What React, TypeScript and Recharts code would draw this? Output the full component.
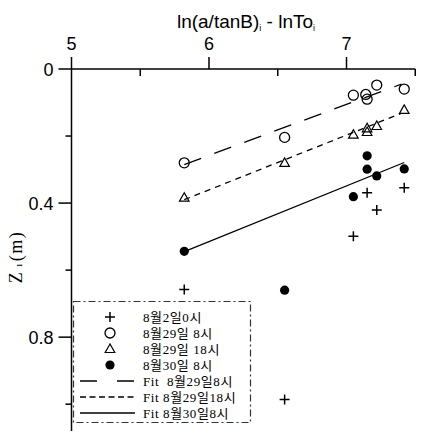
import React from 'react';
import { ScatterChart, Scatter, XAxis, YAxis, Legend } from 'recharts';

// ---- data ----
const xTicks = [5, 5.5, 6, 6.5, 7, 7.5];
const xMajor = [5, 6, 7];
const yTicks = [0, 0.2, 0.4, 0.6, 0.8, 1.0];
const yMajor = [0, 0.4, 0.8];

const crossX = [5.82, 6.55, 7.05, 7.15, 7.22, 7.42];
const crossY = [0.658, 0.986, 0.499, 0.369, 0.421, 0.354];

const openCircX = [5.82, 6.55, 7.05, 7.14, 7.15, 7.22, 7.42];
const openCircY = [0.28, 0.204, 0.078, 0.076, 0.09, 0.048, 0.06];

const triX = [5.82, 6.55, 7.05, 7.15, 7.15, 7.22, 7.42];
const triY = [0.384, 0.28, 0.196, 0.188, 0.177, 0.17, 0.122];

const fillX = [5.82, 6.55, 7.05, 7.15, 7.15, 7.22, 7.42];
const fillY = [0.544, 0.66, 0.381, 0.259, 0.299, 0.319, 0.298];

const fit29_8X = [5.82, 7.4];
const fit29_8Y = [0.285, 0.045];
const fit29_18X = [5.82, 7.4];
const fit29_18Y = [0.39, 0.132];
const fit30_8X = [5.82, 7.42];
const fit30_8Y = [0.545, 0.279];

const legendLabels = [
  '8월2일0시',
  '8월29일 8시',
  '8월29일 18시',
  '8월30일 8시',
  'Fit  8월29일8시',
  'Fit 8월29일18시',
  'Fit 8월30일8시',
];

const zip = (xs: number[], ys: number[]) => xs.map((x, i) => ({ x, y: ys[i] }));

const crossData = zip(crossX, crossY);
const openCircData = zip(openCircX, openCircY);
const triData = zip(triX, triY);
const fillData = zip(fillX, fillY);
const fit1Data = zip(fit29_8X, fit29_8Y);
const fit2Data = zip(fit29_18X, fit29_18Y);
const fit3Data = zip(fit30_8X, fit30_8Y);

// ---- shapes ----
const Cross = ({ cx, cy }: any) => (
  <g>
    <line x1={cx - 5} x2={cx + 5} y1={cy} y2={cy} stroke="#000" strokeWidth={1.5} />
    <line x1={cx} x2={cx} y1={cy - 5} y2={cy + 5} stroke="#000" strokeWidth={1.5} />
  </g>
);
const OpenCircle = ({ cx, cy }: any) => (
  <circle cx={cx} cy={cy} r={5} fill="none" stroke="#000" strokeWidth={1.3} />
);
const Triangle = ({ cx, cy }: any) => (
  <polygon
    points={`${cx},${cy - 5} ${cx - 4.8},${cy + 3.5} ${cx + 4.8},${cy + 3.5}`}
    fill="none"
    stroke="#000"
    strokeWidth={1.2}
  />
);
const FilledCircle = ({ cx, cy }: any) => <circle cx={cx} cy={cy} r={4.6} fill="#000" />;
const NoShape = () => <g />;

const FONT_SANS = "'Liberation Sans', Arial, sans-serif";
const FONT_SERIF = "'Liberation Serif', 'Noto Sans CJK KR', serif";

const XTick = (props: any) => {
  const { x, y, payload } = props;
  const v = payload.value;
  const major = xMajor.some((m) => Math.abs(m - v) < 1e-6);
  return (
    <g>
      <line x1={x} x2={x} y1={y} y2={major ? y - 12 : y + 7} stroke="#000" strokeWidth={1.5} />
      {major && (
        <text x={x} y={y - 19.5} textAnchor="middle" fontSize={18} fontFamily={FONT_SANS} fill="#000">
          {v}
        </text>
      )}
    </g>
  );
};

const YTick = (props: any) => {
  const { x, y, payload } = props;
  const v = payload.value;
  const major = yMajor.some((m) => Math.abs(m - v) < 1e-6);
  return (
    <g>
      <line x1={x} x2={major ? x - 13 : x - 6} y1={y} y2={y} stroke="#000" strokeWidth={1.5} />
      {major && (
        <text x={x - 18} y={y + 6.5} textAnchor="end" fontSize={18} fontFamily={FONT_SANS} fill="#000">
          {v === 0 ? '0' : v.toFixed(1)}
        </text>
      )}
    </g>
  );
};

const XTitle = () => (
  <text x={246} y={28} textAnchor="middle" fontSize={19} fontFamily={FONT_SANS} fill="#000">
    ln(a/tanB)
    <tspan fontSize={9} dy={3}>i</tspan>
    <tspan dy={-3}> - lnTo</tspan>
    <tspan fontSize={9} dy={3}>i</tspan>
  </text>
);

const YTitle = () => (
  <text
    x={0}
    y={0}
    transform="translate(22,257) rotate(-90)"
    textAnchor="middle"
    fontSize={18}
    letterSpacing={1.5}
    fontFamily={FONT_SERIF}
    fill="#000"
  >
    Z
    <tspan fontSize={11} dx={4}>ı</tspan>
    <tspan dx={1}>(m)</tspan>
  </text>
);

const LegendBox = () => {
  const rowY = (i: number) => 16 + 16 * i;
  const symX = 37;
  const textX = 70;
  const symbols = [Cross, OpenCircle, Triangle, FilledCircle];
  const dashes = ['17 20', '6 3.5', undefined];
  return (
    <svg width={178} height={123} style={{ display: 'block', overflow: 'visible' }}>
      <rect
        x={0.5}
        y={0.5}
        width={177}
        height={121}
        fill="#fff"
        stroke="#333"
        strokeWidth={1.2}
        strokeDasharray="7 3 2 3"
      />
      {symbols.map((S, i) => (
        <S key={i} cx={symX} cy={rowY(i)} />
      ))}
      {dashes.map((d, i) => (
        <line
          key={'l' + i}
          x1={7}
          x2={62}
          y1={rowY(4 + i)}
          y2={rowY(4 + i)}
          stroke="#000"
          strokeWidth={1.3}
          strokeDasharray={d}
        />
      ))}
      {legendLabels.map((t, i) => (
        <text
          key={'t' + i}
          x={textX}
          y={rowY(i)}
          dominantBaseline="central"
          fontSize={13}
          letterSpacing={0.6}
          fontFamily={FONT_SERIF}
          fill="#000"
          style={{ whiteSpace: 'pre' }}
        >
          {t}
        </text>
      ))}
    </svg>
  );
};

export default function App() {
  return (
    <div style={{ position: 'absolute', left: 0, top: 0, width: 427, height: 435, background: '#fff' }}>
      <ScatterChart width={427} height={435} margin={{ top: 0, right: 11.75, bottom: 4, left: 0 }}>
        <XAxis
          type="number"
          dataKey="x"
          orientation="top"
          height={69}
          domain={[5, 7.5]}
          ticks={xTicks}
          allowDataOverflow
          interval={0}
          tickSize={0}
          tickMargin={0}
          tickLine={false}
          axisLine={{ stroke: '#000', strokeWidth: 1.5 }}
          tick={<XTick />}
          label={XTitle}
        />
        <YAxis
          type="number"
          dataKey="y"
          reversed
          width={71.5}
          domain={[0, 1.08]}
          ticks={yTicks}
          allowDataOverflow
          interval={0}
          tickSize={0}
          tickMargin={0}
          tickLine={false}
          axisLine={{ stroke: '#000', strokeWidth: 1.5 }}
          tick={<YTick />}
          label={YTitle}
        />
        <Legend
          layout="vertical"
          align="center"
          verticalAlign="middle"
          content={() => <LegendBox />}
          wrapperStyle={{ position: 'absolute', left: 73, top: 301, width: 178, height: 123 }}
        />
        <Scatter name="fit29_8" data={fit1Data} isAnimationActive={false} shape={NoShape}
          line={{ stroke: '#000', strokeWidth: 1.3, strokeDasharray: '18 14' }} legendType="none" />
        <Scatter name="fit29_18" data={fit2Data} isAnimationActive={false} shape={NoShape}
          line={{ stroke: '#000', strokeWidth: 1.3, strokeDasharray: '6 5' }} legendType="none" />
        <Scatter name="fit30_8" data={fit3Data} isAnimationActive={false} shape={NoShape}
          line={{ stroke: '#000', strokeWidth: 1.3 }} legendType="none" />
        <Scatter name="8월2일0시" data={crossData} isAnimationActive={false} shape={Cross} />
        <Scatter name="8월29일 8시" data={openCircData} isAnimationActive={false} shape={OpenCircle} />
        <Scatter name="8월29일 18시" data={triData} isAnimationActive={false} shape={Triangle} />
        <Scatter name="8월30일 8시" data={fillData} isAnimationActive={false} shape={FilledCircle} />
      </ScatterChart>
    </div>
  );
}
